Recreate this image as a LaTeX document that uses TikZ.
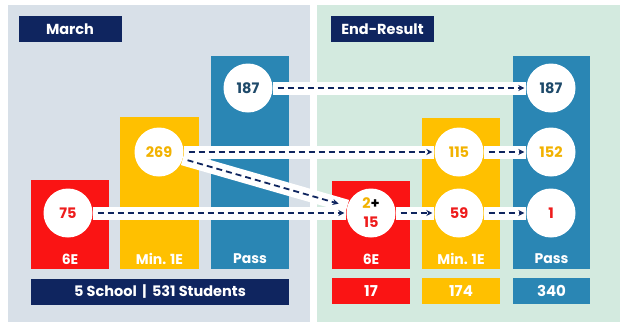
\documentclass[tikz,border=0pt]{standalone}
\usepackage{fontspec}
\setmainfont{Poppins}
\usetikzlibrary{arrows.meta}
\definecolor{navy}{HTML}{0F255F}
\definecolor{leftbg}{HTML}{D8E0E8}
\definecolor{rightbg}{HTML}{D3EADF}
\definecolor{barred}{HTML}{FA1414}
\definecolor{baryel}{HTML}{FFC000}
\definecolor{barblue}{HTML}{2A86B4}
\definecolor{txtyel}{HTML}{F2B200}
\definecolor{txtred}{HTML}{EE1C1C}
\definecolor{txtdark}{HTML}{1E4A6A}
\pgfdeclarelayer{back}
\pgfdeclarelayer{bands}
\pgfsetlayers{back,bands,main}
\begin{document}
\begin{tikzpicture}[x=1pt,y=-1pt,
  tagbox/.style={fill=navy,text=white,font=\bfseries\fontsize{14.5}{16}\selectfont,minimum width=103pt,minimum height=26pt,inner sep=0pt},
  barlabel/.style={text=white,font=\bfseries\fontsize{14}{16}\selectfont,inner sep=0pt},
  totbox/.style={text=white,font=\bfseries\fontsize{15}{17}\selectfont,minimum height=26pt,inner sep=0pt},
  num/.style={circle,fill=white,minimum size=49pt,inner sep=0pt,font=\bfseries\fontsize{14.5}{16}\selectfont},
  band/.style={white,line width=13pt},
  flow/.style={navy,line width=1.8pt,dash pattern=on 6pt off 4pt,-{Stealth[length=6pt,width=6pt]},shorten <=5pt,shorten >=2pt}]
\useasboundingbox (0,0) rectangle (636,327);
\begin{pgfonlayer}{back}
  \fill[leftbg] (8,5) rectangle (310,322);
  \fill[rightbg] (317,5) rectangle (620,322);
  % left bars
  \fill[barred] (31,180) rectangle (109,269);
  \fill[baryel] (120,117) rectangle (199,269);
  \fill[barblue] (211,56) rectangle (289,269);
  % right bars
  \fill[barred] (332,181) rectangle (410,269);
  \fill[baryel] (422,118) rectangle (500,269);
  \fill[barblue] (513,56) rectangle (590,269);
\end{pgfonlayer}
\node[tagbox] (tmarch) at (70,29) {March};
\node[tagbox] (tend) at (382.5,29) {End-Result};
\node[barlabel] (ll6) at (70,259) {6E};
\node[barlabel] (llm) at (159.5,259) {Min. 1E};
\node[barlabel] (llp) at (250,259) {Pass};
\node[barlabel] (rl6) at (371,259) {6E};
\node[barlabel] (rlm) at (461,259) {Min. 1E};
\node[barlabel] (rlp) at (551.5,259) {Pass};
\node[totbox,fill=navy,minimum width=258pt,font=\bfseries\fontsize{14.5}{16}\selectfont] (tl) at (160,291.5) {5 School \,|\, 531 Students};
\node[totbox,fill=barred,minimum width=78pt] (t6) at (371,291) {17};
\node[totbox,fill=baryel,minimum width=78pt] (tm) at (461,291) {174};
\node[totbox,fill=barblue,minimum width=77pt] (tp) at (551.5,291) {340};
% circles
\node[num,text=txtdark] (l187) at (248,88) {187};
\node[num,text=txtyel] (l269) at (159,152) {269};
\node[num,text=txtred] (l75) at (68,213) {75};
\node[num,text=txtdark] (r187) at (551,88) {187};
\node[num,text=txtyel] (r115) at (459,152) {115};
\node[num,text=txtyel] (r152) at (551,152) {152};
\node[num,align=center,font=\bfseries\fontsize{14.5}{19}\selectfont] (r6) at (371,213) {\textcolor{txtyel}{2}\textcolor{black}{+}\\\textcolor{txtred}{15}};
\node[num,text=txtred] (r59) at (459,213) {59};
\node[num,text=txtred] (r1) at (551,213) {1};
\begin{pgfonlayer}{bands}
  \draw[band] (l187) -- (r187);
  \draw[band] (l269) -- (r115);
  \draw[band] (r115) -- (r152);
  \draw[band] (l269) -- (r6);
  \draw[band] (l75) -- (r6);
  \draw[band] (r6) -- (r59);
  \draw[band] (r59) -- (r1);
\end{pgfonlayer}
\draw[flow] (l187) -- (r187);
\draw[flow] (l269) -- (r115);
\draw[flow] (r115) -- (r152);
\draw[flow,shorten >=9pt] (l269) -- (r6);
\draw[flow] (l75) -- (r6);
\draw[flow] (r6) -- (r59);
\draw[flow] (r59) -- (r1);
\end{tikzpicture}
\end{document}
